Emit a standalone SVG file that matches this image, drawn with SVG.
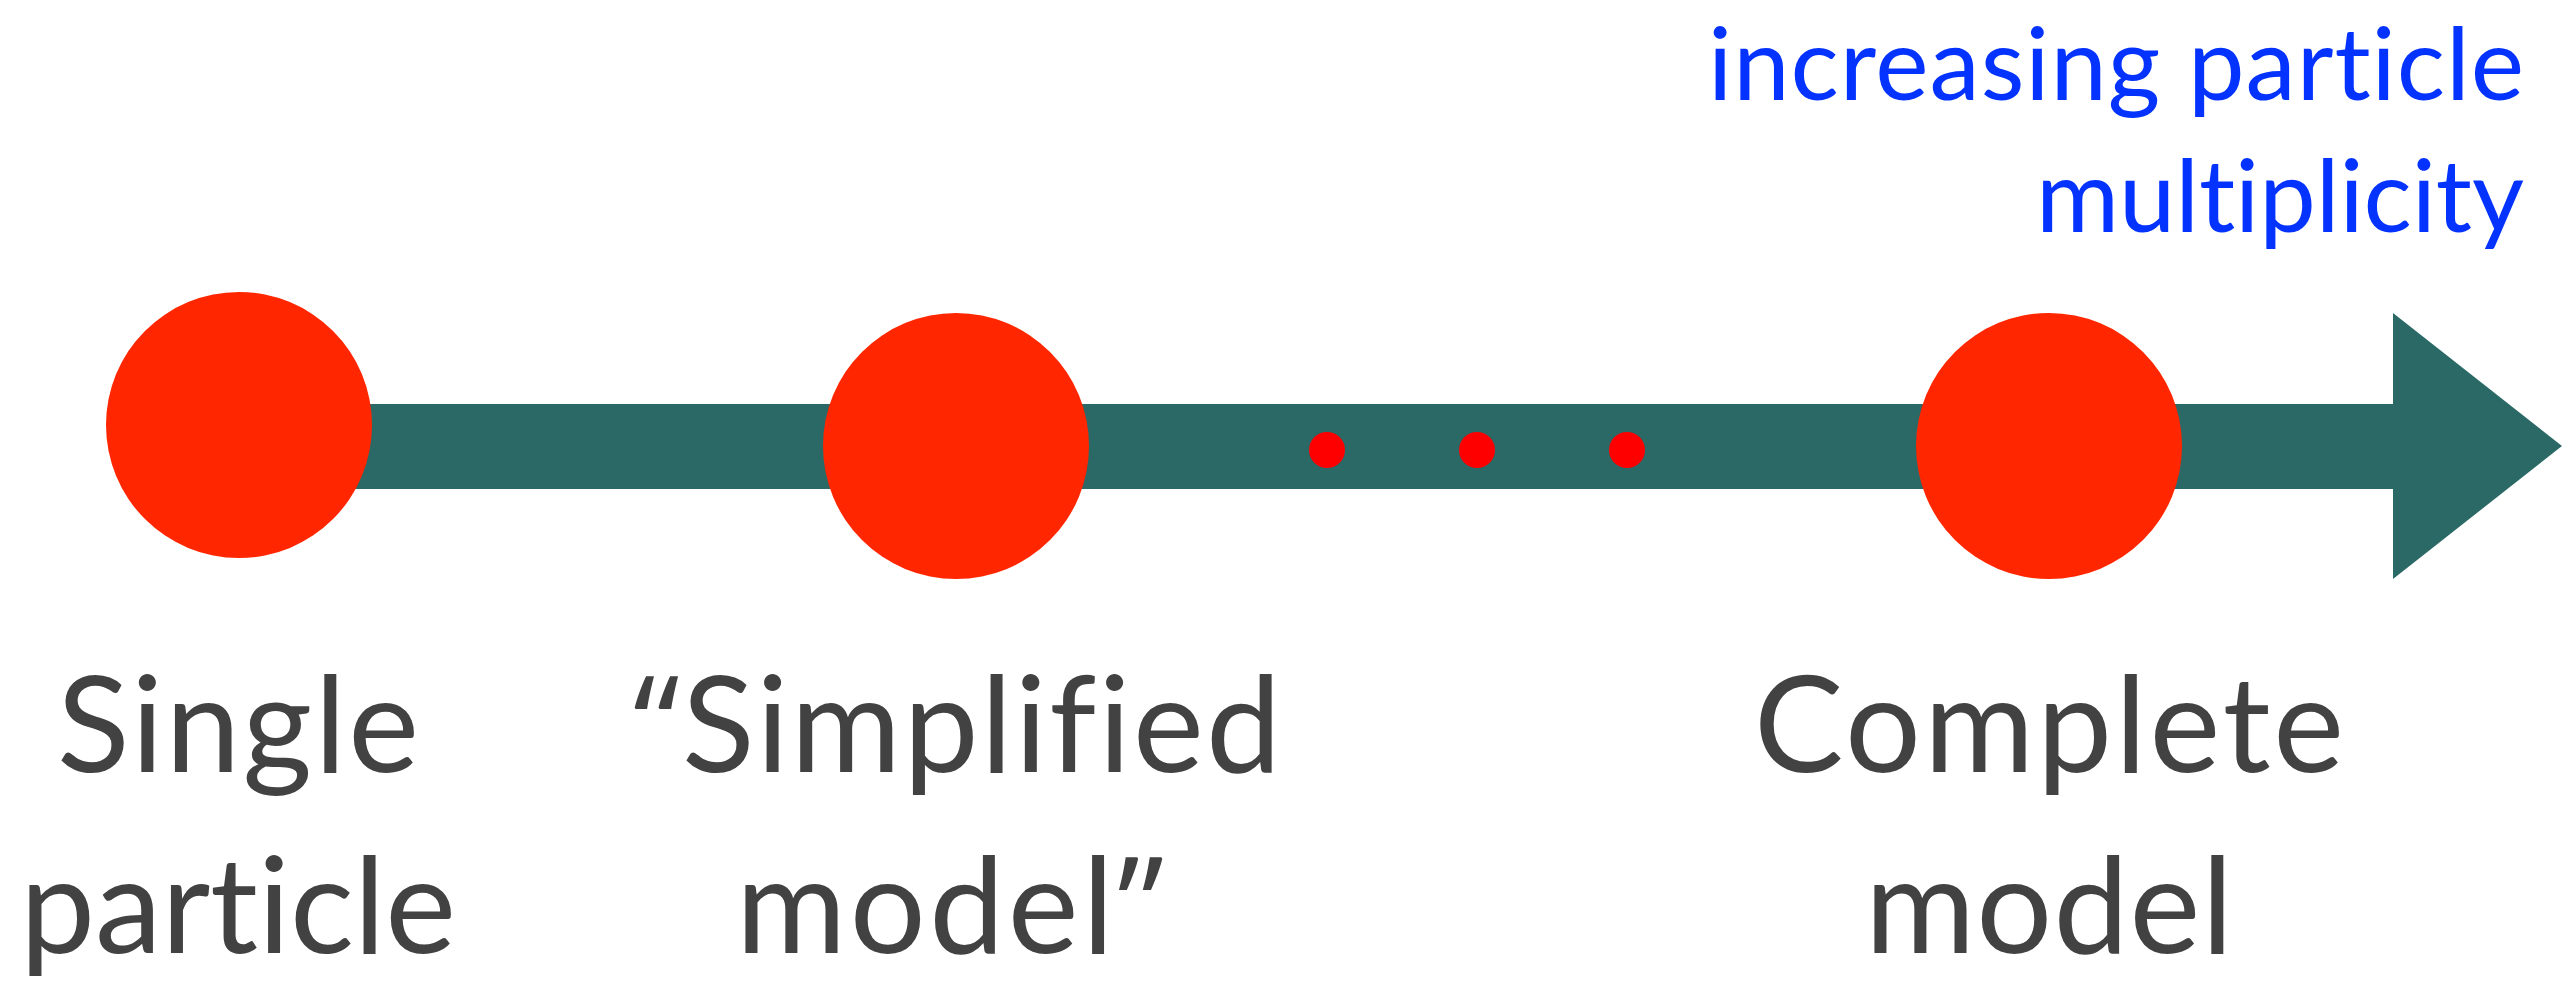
<svg xmlns="http://www.w3.org/2000/svg" width="2576" height="989" viewBox="0 0 2576 989">
  <style>
    .stage { fill: #FF2600; }
    .dot { fill: #FF0000; }
    text { font-variant-ligatures: none; font-feature-settings: "liga" 0, "clig" 0, "dlig" 0; }
    .label { font-family: Lato, "Liberation Sans", sans-serif; font-size: 134px; fill: #424242; text-anchor: middle; }
    .note { font-family: Lato, "Liberation Sans", sans-serif; font-size: 101px; fill: #0433FF; text-anchor: end; }
    .q { font-family: "Open Sans", "Liberation Sans", sans-serif; }
  </style>
  <rect width="2576" height="989" fill="#FFFFFF"/>

  <!-- axis arrow -->
  <g id="connectors">
    <path d="M238 404 H2393 V313 L2562 446 L2393 579 V489 H238 Z" fill="#2A6966"/>
  </g>

  <g id="axis-label">
    <text class="note" x="2524" y="100" textLength="816" lengthAdjust="spacing">increasing particle</text>
    <text class="note" x="2524" y="232" textLength="488" lengthAdjust="spacing">multiplicity</text>
  </g>

  <g id="single-particle">
    <circle class="stage" cx="239" cy="425" r="133"/>
    <text class="label" x="238" y="772" textLength="362" lengthAdjust="spacing">Single</text>
    <text class="label" x="238" y="953" textLength="436" lengthAdjust="spacing">particle</text>
  </g>

  <g id="simplified-model">
    <circle class="stage" cx="956" cy="446" r="133"/>
    <text class="label" x="957" y="772" textLength="648" lengthAdjust="spacing"><tspan class="q">“</tspan>Simplified</text>
    <text class="label" x="950" y="953" textLength="428" lengthAdjust="spacing">model<tspan class="q">”</tspan></text>
  </g>

  <g id="intermediate">
    <circle class="dot" cx="1327" cy="450" r="18"/>
    <circle class="dot" cx="1477" cy="450" r="18"/>
    <circle class="dot" cx="1627" cy="450" r="18"/>
  </g>

  <g id="complete-model">
    <circle class="stage" cx="2049" cy="446" r="133"/>
    <text class="label" x="2049" y="772" textLength="590" lengthAdjust="spacing">Complete</text>
    <text class="label" x="2049" y="953" textLength="368" lengthAdjust="spacing">model</text>
  </g>
</svg>
